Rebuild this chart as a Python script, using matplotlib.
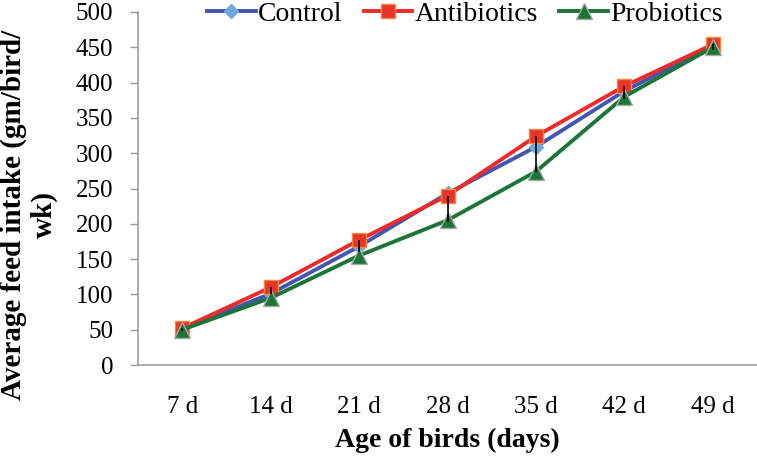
import matplotlib
matplotlib.use("Agg")
import matplotlib.pyplot as plt
import numpy as np

categories = ["7 d", "14 d", "21 d", "28 d", "35 d", "42 d", "49 d"]
control = [51, 101, 168, 243, 309, 388, 452]
antibiotics = [52, 110, 177, 240, 324, 395, 454]
probiotics = [50, 95, 155, 205, 274, 380, 450]
err_low = [4, 10, 17, 38, 50, 18, 8]
y_ticks = [0, 50, 100, 150, 200, 250, 300, 350, 400, 450, 500]

plt.rcParams['font.family'] = ['Liberation Serif', 'DejaVu Serif']

W, H = 757, 457
fig = plt.figure(figsize=(W/100, H/100), dpi=100)
ax = fig.add_axes([138/W, (H-365)/H, 1 - 138/W, (365-12)/H])

x = np.arange(len(categories))

ax.plot(x, control, color='#4157B0', lw=2.8, marker='D', markersize=7,
        markerfacecolor='#6FA8DC', markeredgecolor='#6FA8DC', label='Control', zorder=3)
ax.plot(x, antibiotics, color='#EE2A2A', lw=2.8, marker='s', markersize=9.5,
        markerfacecolor='#E8342A', markeredgecolor='#F5883A', label='Antibiotics', zorder=4)
ax.plot(x, probiotics, color='#1D7438', lw=2.8, marker='^', markersize=12,
        markerfacecolor='#1D7438', markeredgecolor='#A8A8A8', label='Probiotics', zorder=5)
ax.errorbar(x, antibiotics, yerr=[err_low, [0]*len(x)], fmt='none', ecolor='black',
            elinewidth=1.2, capsize=0, zorder=6)

ax.set_xlim(-0.5, len(categories) - 0.5)
ax.set_ylim(0, 500)
ax.set_yticks(y_ticks)
ax.set_xticks(x)
ax.set_xticklabels(categories)
ax.tick_params(axis='x', length=0, pad=22, labelsize=18)
ax.tick_params(axis='y', length=6, width=1, color='#999999', pad=12, labelsize=18)

for s in ['top', 'right']:
    ax.spines[s].set_visible(False)
for s in ['left', 'bottom']:
    ax.spines[s].set_color('#A0A0A0')
    ax.spines[s].set_linewidth(1.2)

fig.text(447.5/W, 1 - 440/H, 'Age of birds (days)', fontsize=20, fontweight='bold',
         ha='center', va='center')
fig.text(29/W, 1 - 215/H, 'Average feed intake (gm/bird/\nwk)', fontsize=21,
         fontweight='bold', rotation=90, ha='center', va='center',
         multialignment='center', linespacing=1.15)

leg = fig.legend(loc='upper center', bbox_to_anchor=(465/W, 1.0), ncol=3, frameon=False,
                 fontsize=20, handlelength=1.75, handletextpad=0.1, columnspacing=0.75,
                 borderaxespad=0, borderpad=0.05)

fig.savefig('out.png', dpi=100)
